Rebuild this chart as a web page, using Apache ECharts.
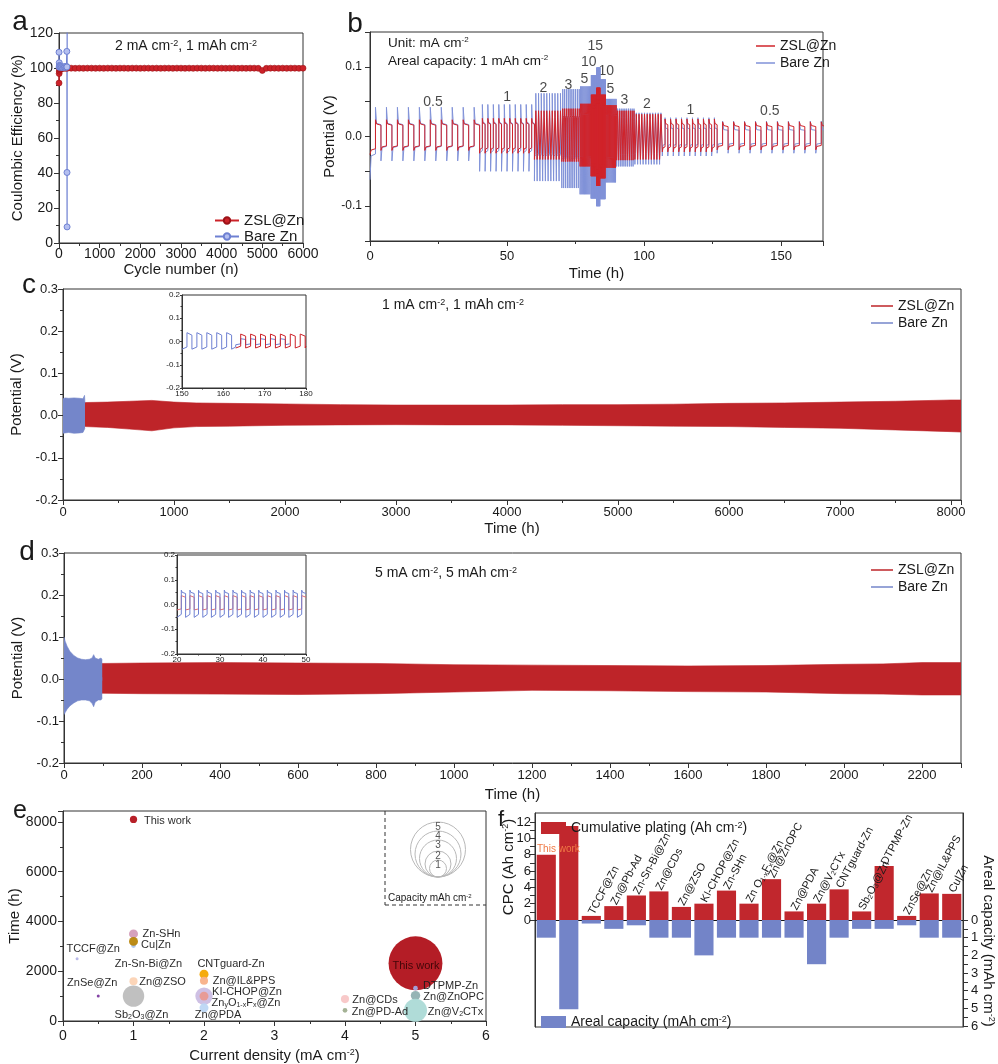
<!DOCTYPE html>
<html><head><meta charset="utf-8"><title>Zn anode cycling</title>
<script src="https://cdn.jsdelivr.net/npm/echarts@6.0.0/dist/echarts.min.js"></script>
<style>html,body{margin:0;padding:0;background:#fff;}#chart{width:998px;height:1064px;}</style>
</head><body><div id="chart"></div>
<script>
// ================= DATA =================
// ---- panel a : Coulombic efficiency ----
const aZslCycle = [1,4,8,15,25,40,60,80,100,150,
  200,300,400,500,600,700,800,900,1000,1100,
  1200,1300,1400,1500,1600,1700,1800,1900,2000,2100,
  2200,2300,2400,2500,2600,2700,2800,2900,3000,3100,
  3200,3300,3400,3500,3600,3700,3800,3900,4000,4100,
  4200,4300,4400,4500,4600,4700,4800,4900,5000,5100,
  5200,5300,5400,5500,5600,5700,5800,5900,6000];
const aZslCE = [91.4,96.8,98.2,99.0,99.4,99.6,99.7,99.8,99.8,99.8,
  99.8,99.9,99.8,99.9,99.8,99.9,99.9,99.8,99.9,99.8,
  99.9,99.9,99.8,99.9,99.9,99.8,99.9,99.9,99.8,99.9,
  99.9,99.8,99.9,99.8,99.9,99.9,99.8,99.9,99.9,99.8,
  99.9,99.8,99.9,99.9,99.8,99.9,99.9,99.8,99.9,99.8,
  99.9,99.9,99.8,99.9,99.8,99.9,99.9,99.8,98.6,99.8,
  99.9,99.9,99.8,99.9,99.8,99.9,99.9,99.8,99.9];
const aBareCycle = [1,3,6,10,15,22,30,40,55,70,90,110,130,150,170,185,192,195,197,199,201];
const aBareCE = [109,100.5,103,101.5,100.8,101.2,100.6,100.9,100.4,100.7,100.3,100.6,100.5,100.8,100.4,100.9,109.5,100.6,40.3,9.2,160];

// ---- panel b : rate performance (1 mAh cm-2) ----
const bRate = [0.5,1,2,3,5,10,15,10,5,3,2,1,0.5];          // mA cm-2
const bCycles = [10,10,10,10,10,10,10,10,10,10,10,10,10];
const bZslUp = [0.024,0.026,0.037,0.040,0.047,0.060,0.070,0.060,0.045,0.037,0.032,0.025,0.021];
const bZslDown = [-0.020,-0.024,-0.033,-0.036,-0.043,-0.057,-0.071,-0.060,-0.045,-0.034,-0.033,-0.022,-0.019];
const bBareUp = [0.042,0.046,0.062,0.068,0.072,0.088,0.099,0.082,0.054,0.040,0.034,0.027,0.022];
const bBareDown = [-0.035,-0.050,-0.064,-0.074,-0.083,-0.089,-0.100,-0.090,-0.066,-0.043,-0.040,-0.028,-0.024];
const bZslFirst = -0.026, bBareFirst = -0.062;
const bLblText = ['0.5','1','2','3','5','10','15','10','5','3','2','1','0.5'];
const bLblT = [23,50,63.3,72.4,78.2,79.8,82.2,86.2,87.7,92.8,101,116.9,145.9];
const bLblV = [0.05,0.056,0.069,0.074,0.083,0.107,0.129,0.094,0.068,0.052,0.046,0.038,0.036];

// ---- panel c : 1 mA cm-2, 1 mAh cm-2 (envelopes) ----
const cZslT = [0,200,400,600,800,1000,1200,1500,2000,2500,3000,3500,4000,4500,5000,5500,6000,6500,7000,7500,8000,8090];
const cZslUp = [0.031,0.031,0.032,0.034,0.036,0.032,0.030,0.029,0.0275,0.026,0.025,0.025,0.025,0.026,0.026,0.027,0.029,0.030,0.032,0.034,0.037,0.037];
const cZslDown = [-0.026,-0.026,-0.028,-0.032,-0.036,-0.029,-0.026,-0.025,-0.023,-0.022,-0.0215,-0.022,-0.022,-0.023,-0.024,-0.025,-0.026,-0.028,-0.030,-0.034,-0.038,-0.039];
const cBareT = [0,20,50,100,150,180,190,194,198];
const cBareUp = [0.040,0.042,0.041,0.042,0.041,0.040,0.039,0.048,0.030];
const cBareDown = [-0.042,-0.041,-0.040,-0.042,-0.041,-0.040,-0.039,-0.037,-0.030];
// inset c: [start, end, period, up, down]
const cInBare = [[150,163,2.4,0.038,-0.033],[163,176,2.4,0.012,-0.014]];
const cInZsl = [[163,180,2.4,0.032,-0.028]];

// ---- panel d : 5 mA cm-2, 5 mAh cm-2 (envelopes) ----
const dZslT = [0,100,200,400,600,800,1000,1200,1400,1600,1800,2000,2100,2200,2300];
const dZslUp = [0.037,0.037,0.038,0.039,0.038,0.037,0.034,0.033,0.032,0.031,0.032,0.035,0.036,0.039,0.039];
const dZslDown = [-0.034,-0.034,-0.035,-0.036,-0.037,-0.035,-0.031,-0.027,-0.028,-0.030,-0.031,-0.035,-0.036,-0.038,-0.038];
const dBareT = [0,3,8,15,25,35,45,55,65,72,76,80,88,95,98];
const dBareUp = [0.100,0.090,0.078,0.066,0.056,0.050,0.047,0.046,0.047,0.050,0.058,0.050,0.047,0.050,0.045];
const dBareDown = [-0.085,-0.080,-0.072,-0.064,-0.057,-0.052,-0.050,-0.050,-0.052,-0.058,-0.066,-0.055,-0.050,-0.050,-0.045];
const dInBare = [[20,50,2,0.058,-0.052]];
const dInZsl = [[20,50,2,0.036,-0.022]];

// ---- panel e : literature comparison ----
const eNames = ['This work','Zn-SHn','Zn-Sn-Bi@Zn','Cu|Zn','TCCF@Zn','ZnSe@Zn','Zn@ZSO','Sb2O3@Zn','CNTguard-Zn','Zn@IL&PPS','KI-CHOP@Zn','ZnyO1-xFx@Zn','Zn@PDA','Zn@CDs','Zn@PD-Ad','This work','DTPMP-Zn','Zn@ZnOPC','Zn@V2CTx'];
const eCurrent = [1,1,1,1,0.2,0.5,1,1,2,2,2,2,2,4,4,5,5,5,5];
const eTime = [8100,3500,3030,3200,2500,1000,1600,1000,1880,1620,1000,1000,530,880,430,2320,1320,1020,430];
const eCap = [0.9,1.1,0.6,1.1,0.3,0.3,1.0,2.4,1.1,1.0,2.0,1.1,1.1,1.0,0.6,5.1,0.6,1.15,2.55];
const eLegendCaps = [5,4,3,2,1];

// ---- panel f : cumulative plating capacity ----
const fNames = ['This work','This work','TCCF@Zn','Zn@Pb-Ad','Zn-Sn-Bi@Zn','Zn@CDs','Zn@ZSO','KI-CHOP@Zn','Zn-SHn','Zn O1-xFx@Zn','Zn@ZnOPC','Zn@PDA','Zn@V2CTx','CNTguard-Zn','Sb2O3@Zn','DTPMP-Zn','ZnSe@Zn','Zn@IL&PPS','Cu|Zn'];
const fCPC = [8,11.5,0.5,1.7,3.0,3.5,1.6,2.0,3.6,2.0,5.0,1.05,2.0,3.75,1.05,6.6,0.5,3.25,3.2];
const fAreal = [1,5.05,0.2,0.5,0.3,1,1,2,1,1,1,1,2.5,1,0.5,0.5,0.3,1,1];
const fLeftTicks = [0,2,4,6,8,10,12];
const fRightTicks = [0,1,2,3,4,5,6];

// ================= STYLE / LAYOUT =================
const FONT = '"Liberation Sans", Arial, Helvetica, sans-serif';
const INK = '#1a1a1a';
const R = fs => ({
  sup:{fontSize:Math.round(fs*0.62), verticalAlign:'top', fontFamily:FONT, color:INK},
  sub:{fontSize:Math.round(fs*0.62), verticalAlign:'bottom', fontFamily:FONT, color:INK}
});
const RICHNAME = {
  'Sb2O3@Zn':'Sb{sub|2}O{sub|3}@Zn',
  'ZnyO1-xFx@Zn':'Zn{sub|y}O{sub|1-x}F{sub|x}@Zn',
  'Zn O1-xFx@Zn':'Zn O{sub|1-x}F{sub|x}@Zn',
  'Zn@V2CTx':'Zn@V{sub|2}CTx'
};
const rn = n => RICHNAME[n] || n;

function merge(a, b){
  const o = Object.assign({}, a);
  for (const k in b){
    const v = b[k];
    if (v && typeof v === 'object' && !Array.isArray(v) && a && a[k] && typeof a[k] === 'object' && !Array.isArray(a[k])) o[k] = merge(a[k], v);
    else o[k] = v;
  }
  return o;
}
const plain = v => String(Math.round(v*1e6)/1e6);
function ax(extra){
  return merge({
    type:'value',
    axisLine:{show:true, onZero:false, lineStyle:{color:'#333', width:1}},
    axisTick:{show:true, length:5, lineStyle:{color:'#333'}},
    minorTick:{show:true, splitNumber:2, length:3, lineStyle:{color:'#333'}},
    splitLine:{show:false}, minorSplitLine:{show:false},
    axisLabel:{color:INK, fontSize:13, fontFamily:FONT, formatter:plain},
    nameLocation:'middle',
    nameTextStyle:{color:INK, fontSize:15, fontFamily:FONT, rich:R(15)}
  }, extra);
}
const f1 = v => (Math.abs(v) < 1e-9 ? 0 : v).toFixed(1);
const fB = v => { const r = Math.round(v*100); return r % 10 !== 0 ? '' : (r/100).toFixed(1); };
const inX = {axisLabel:{fontSize:8, margin:2}, axisTick:{length:2}, minorTick:{length:1.5}};

// waveform from segment table [start, end, period, up, down]
function wave(segs, platF, first){
  const out = []; let firstDone = false;
  segs.forEach(s => {
    const ts = s[0], te = s[1], h = s[2]/2, up = s[3], dn = s[4];
    let t = ts, neg = true;
    while (t < te - 1e-6){
      const e = Math.min(t + h, te);
      let p = neg ? dn : up;
      if (!firstDone && first != null){ p = first; firstDone = true; }
      out.push([t, p], [t + 0.2*(e - t), p*platF], [e, p*platF*0.9]);
      t = e; neg = !neg;
    }
  });
  return out;
}
function bSegs(up, dn){
  const segs = []; let t = 0;
  bRate.forEach((r, i) => { const per = 2/r; const dur = bCycles[i]*per; segs.push([t, t+dur, per, up[i], dn[i]]); t += dur; });
  return segs;
}
// a dense-oscillation band: upper envelope filled down past 0, lower envelope filled up past 0
function band(name, xi, yi, T, U, D, color, z){
  const common = {type:'line', xAxisIndex:xi, yAxisIndex:yi, symbol:'none', silent:true, color:color, z:z,
    lineStyle:{width:0.6, color:color}, itemStyle:{color:color}};
  return [
    Object.assign({name:name, data:T.map((t,i)=>[t, U[i]]), areaStyle:{color:color, opacity:1, origin:-0.004}}, common),
    Object.assign({name:name+'#lo', data:T.map((t,i)=>[t, D[i]]), areaStyle:{color:color, opacity:1, origin:0.004}}, common)
  ];
}
const pairs = (X, Y) => X.map((x,i)=>[x, Y[i]]);
const stripName = n => n.replace(/^[a-f]:/, '');

// colours
const RED_A = '#cc2229', BLUE_A = '#6e80d2';
const RED_B = '#d0242b', BLUE_B = '#8092d8';
const RED_BAND = '#be2429', BLUE_BAND = '#7486ca';
const eColors = ['#b3141c','#d49cb9','#a9c3ec','#b8860b','#b4b4e6','#7d3aa0','#fcd3b4','#bdbdbd','#f4a600','#f8b088','#cbbde3','#e99a92','#bcd6f4','#f8c6c6','#9fae8f','#b0111a','#a3a6e3','#8fb0b1','#acdad6'];
const eLabelOffset = [[34,1.5],[28,0.5],[15,18],[22.5,4],[16,-10],[-6,-13.6],[29,1],[8,19],[27,-10.7],[40,0],[43,-4.3],[42,7.3],[14,7.3],[30,1],[35,1.4],[0.5,2.7],[35,-2.3],[38,1.4],[40,2]];
const eKeyRadius = [27.5,23,18.5,13,8.5];
const capSize = c => Math.max(3, 7.5*c + 0.6*c*c);

// ================= OPTION =================
const gridStyle = {show:true, borderColor:'#333', borderWidth:1, backgroundColor:'transparent'};
const option = {
  animation:false,
  textStyle:{fontFamily:FONT},
  grid:[
    Object.assign({left:59, top:33, width:244, height:210}, gridStyle),
    Object.assign({left:370, top:32, width:453, height:209}, gridStyle),
    Object.assign({left:63, top:289, width:898, height:211}, gridStyle),
    Object.assign({left:182, top:295, width:124, height:93}, gridStyle),
    Object.assign({left:64, top:553, width:897, height:210}, gridStyle),
    Object.assign({left:177, top:555, width:129, height:99}, gridStyle),
    Object.assign({left:63, top:811, width:423, height:211}, gridStyle),
    Object.assign({left:535, top:813, width:428, height:214}, gridStyle)
  ],
  xAxis:[
    ax({gridIndex:0, min:0, max:6000, interval:1000, name:'Cycle number (n)', nameGap:17, axisLabel:{fontSize:14, margin:4}}),
    ax({gridIndex:1, min:0, max:165.3, interval:50, name:'Time (h)', nameGap:25, axisLabel:{margin:9, showMaxLabel:false}}),
    ax({gridIndex:2, min:0, max:8090, interval:1000, name:'Time (h)', nameGap:21, axisLabel:{margin:6, showMaxLabel:false}}),
    ax(merge(inX, {gridIndex:3, min:150, max:180, interval:10})),
    ax({gridIndex:4, min:0, max:2300, interval:200, name:'Time (h)', nameGap:24, axisLabel:{margin:6, showMaxLabel:false}}),
    ax(merge(inX, {gridIndex:5, min:20, max:50, interval:10})),
    ax({gridIndex:6, min:0, max:6, interval:1, name:'Current density (mA cm{sup|-2})', nameGap:27, axisLabel:{fontSize:14, margin:8}}),
    ax({gridIndex:7, type:'category', data:fNames, boundaryGap:true, axisLabel:{show:false}, axisTick:{show:false}, minorTick:{show:false},
        axisLine:{onZero:true, onZeroAxisIndex:7, lineStyle:{color:'#111', width:1.2}}})
  ],
  yAxis:[
    ax({gridIndex:0, min:0, max:120, interval:20, name:'Coulombic Efficiency (%)', nameGap:34, axisLabel:{fontSize:14, margin:6}}),
    ax({gridIndex:1, min:-0.15, max:0.15, interval:0.05, minorTick:{show:false}, name:'Potential (V)', nameGap:22, axisLabel:{formatter:fB, fontSize:12, margin:8}}),
    ax({gridIndex:2, min:-0.2, max:0.3, interval:0.1, name:'Potential (V)', nameGap:27, axisLabel:{formatter:f1, margin:5}}),
    ax(merge(inX, {gridIndex:3, min:-0.2, max:0.2, interval:0.1, axisLabel:{formatter:f1}})),
    ax({gridIndex:4, min:-0.2, max:0.3, interval:0.1, name:'Potential (V)', nameGap:27, axisLabel:{formatter:f1, margin:5}}),
    ax(merge(inX, {gridIndex:5, min:-0.2, max:0.2, interval:0.1, axisLabel:{formatter:f1}})),
    ax({gridIndex:6, min:0, max:8440, interval:2000, name:'Time (h)', nameGap:40, axisLabel:{fontSize:14, margin:6, showMaxLabel:false}}),
    ax({gridIndex:7, min:-13.1, max:13.1, minorTick:{show:false},
        axisLabel:{customValues:fLeftTicks, margin:4}, axisTick:{customValues:[0,1,2,3,4,5,6,7,8,9,10,11,12]}}),
    ax({gridIndex:7, position:'right', inverse:true, min:-6.05, max:6.05, minorTick:{show:false},
        axisLabel:{customValues:fRightTicks, margin:8}, axisTick:{customValues:[0,0.5,1,1.5,2,2.5,3,3.5,4,4.5,5,5.5,6]}})
  ],
  legend:[
    {left:209, top:208, orient:'vertical', itemWidth:24, itemHeight:8, itemGap:1, selectedMode:false,
     data:['a:ZSL@Zn','a:Bare Zn'], formatter:stripName, textStyle:{fontSize:15, color:INK}},
    {left:751, top:34, orient:'vertical', itemWidth:19, itemHeight:1.5, icon:'rect', itemGap:3, selectedMode:false,
     data:['b:ZSL@Zn','b:Bare Zn'], formatter:stripName, textStyle:{fontSize:14, color:INK}},
    {left:866, top:294, orient:'vertical', itemWidth:22, itemHeight:1.5, icon:'rect', itemGap:3, selectedMode:false,
     data:['c:ZSL@Zn','c:Bare Zn'], formatter:stripName, textStyle:{fontSize:14, color:INK}},
    {left:866, top:558, orient:'vertical', itemWidth:22, itemHeight:1.5, icon:'rect', itemGap:3, selectedMode:false,
     data:['d:ZSL@Zn','d:Bare Zn'], formatter:stripName, textStyle:{fontSize:14, color:INK}},
    {left:536, top:816, itemWidth:25, itemHeight:12, icon:'rect', selectedMode:false,
     data:['f:cpc'], formatter:()=>'Cumulative plating (Ah cm{sup|-2})', textStyle:{fontSize:14, color:INK, rich:R(14)}},
    {left:536, top:1010, itemWidth:25, itemHeight:12, icon:'rect', selectedMode:false,
     data:['f:areal'], formatter:()=>'Areal capacity (mAh cm{sup|-2})', textStyle:{fontSize:14, color:INK, rich:R(14)}}
  ],
  series:[].concat(
    // a
    [{name:'a:ZSL@Zn', type:'line', xAxisIndex:0, yAxisIndex:0, data:pairs(aZslCycle, aZslCE),
      symbol:'circle', symbolSize:6, lineStyle:{color:RED_A, width:1.5}, itemStyle:{color:RED_A, borderColor:'#9c1218', borderWidth:0.6}},
     {name:'a:Bare Zn', type:'line', xAxisIndex:0, yAxisIndex:0, data:pairs(aBareCycle, aBareCE),
      symbol:'circle', symbolSize:6, lineStyle:{color:BLUE_A, width:1.2}, itemStyle:{color:'#b4bff0', borderColor:BLUE_A, borderWidth:1}}],
    // b
    [{name:'b:Bare Zn', type:'line', xAxisIndex:1, yAxisIndex:1, data:wave(bSegs(bBareUp, bBareDown), 0.45, bBareFirst),
      symbol:'none', lineStyle:{color:BLUE_B, width:1}, itemStyle:{color:BLUE_B}, silent:true},
     {name:'b:ZSL@Zn', type:'line', xAxisIndex:1, yAxisIndex:1, data:wave(bSegs(bZslUp, bZslDown), 0.75, bZslFirst),
      symbol:'none', lineStyle:{color:RED_B, width:1}, itemStyle:{color:RED_B}, silent:true},
     {name:'b:labels', type:'scatter', xAxisIndex:1, yAxisIndex:1, data:pairs(bLblT, bLblV), symbolSize:1,
      itemStyle:{color:'transparent'}, silent:true,
      label:{show:true, position:'inside', formatter:p=>bLblText[p.dataIndex], fontSize:14, color:INK, fontFamily:FONT}}],
    // c
    band('c:ZSL@Zn', 2, 2, cZslT, cZslUp, cZslDown, RED_BAND, 2),
    band('c:Bare Zn', 2, 2, cBareT, cBareUp, cBareDown, BLUE_BAND, 3),
    [{name:'cin:Bare', type:'line', xAxisIndex:3, yAxisIndex:3, data:wave(cInBare, 0.8), symbol:'none', lineStyle:{color:BLUE_A, width:1}, silent:true},
     {name:'cin:ZSL', type:'line', xAxisIndex:3, yAxisIndex:3, data:wave(cInZsl, 0.8), symbol:'none', lineStyle:{color:RED_A, width:1}, silent:true}],
    // d
    band('d:ZSL@Zn', 4, 4, dZslT, dZslUp, dZslDown, RED_BAND, 2),
    band('d:Bare Zn', 4, 4, dBareT, dBareUp, dBareDown, BLUE_BAND, 3),
    [{name:'din:ZSL', type:'line', xAxisIndex:5, yAxisIndex:5, data:wave(dInZsl, 0.9), symbol:'none', lineStyle:{color:'#e06a70', width:1}, silent:true},
     {name:'din:Bare', type:'line', xAxisIndex:5, yAxisIndex:5, data:wave(dInBare, 0.85), symbol:'none', lineStyle:{color:BLUE_A, width:1}, silent:true}],
    // e
    [{name:'e:bubbles', type:'scatter', xAxisIndex:6, yAxisIndex:6, silent:true,
      symbolSize:v=>capSize(v[2]),
      data:eNames.map((n,i)=>({
        name:n, value:[eCurrent[i], eTime[i], eCap[i]],
        itemStyle:{color:eColors[i], opacity:0.95},
        label:{show:true, position:'inside', offset:eLabelOffset[i], formatter:rn(n),
               fontSize:11, color:(i===15?'#3c0507':INK), fontFamily:FONT, rich:R(11)}
      }))}],
    // f
    [{name:'f:cpc', type:'bar', xAxisIndex:7, yAxisIndex:7, data:fCPC, barWidth:'85%', barGap:'-100%',
      itemStyle:{color:'#c1272d'}, silent:true,
      label:{show:true, position:'top', distance:2, rotate:62, align:'left', verticalAlign:'middle',
             formatter:p=>p.dataIndex<2?'':rn(fNames[p.dataIndex]), fontSize:11, color:INK, fontFamily:FONT, rich:R(11)}},
     {name:'f:areal', type:'bar', xAxisIndex:7, yAxisIndex:8, data:fAreal, barWidth:'85%', barGap:'-100%',
      itemStyle:{color:'#7384c8'}, silent:true}]
  ),
  graphic:[]
};

// ---- decorations: panel letters, annotations, bubble-size key ----
const G = option.graphic;
function txt(x, y, text, fs, extra){
  G.push({type:'text', x:x, y:y, z:100, silent:true,
    style:Object.assign({text:text, fontSize:fs, fontFamily:FONT, fill:INK, align:'left', verticalAlign:'middle', rich:R(fs)}, extra||{})});
}
[['a',20,22,28],['b',355,24,28],['c',29,285,28],['d',27,552,28],['e',20,811,25],['f',501,820,22]].forEach(l=>txt(l[1], l[2], l[0], l[3], {align:'center'}));
txt(186, 46, '2 mA cm{sup|-2}, 1 mAh cm{sup|-2}', 14, {align:'center'});
txt(388, 43, 'Unit: mA cm{sup|-2}', 13.5);
txt(388, 61, 'Areal capacity: 1 mAh cm{sup|-2}', 13.5);
txt(382, 305, '1 mA cm{sup|-2}, 1 mAh cm{sup|-2}', 14);
txt(375, 573, '5 mA cm{sup|-2}, 5 mAh cm{sup|-2}', 14);
txt(537, 849, 'This work', 10, {fill:'#f07a45'});
// f axis names
G.push({type:'text', x:509, y:867, rotation:Math.PI/2, z:100, silent:true,
  style:{text:'CPC (Ah cm{sup|-2})', fontSize:15, fontFamily:FONT, fill:INK, align:'center', verticalAlign:'middle', rich:R(15)}});
G.push({type:'text', x:988, y:941, rotation:-Math.PI/2, z:100, silent:true,
  style:{text:'Areal capacity (mAh cm{sup|-2})', fontSize:15, fontFamily:FONT, fill:INK, align:'center', verticalAlign:'middle', rich:R(15)}});
// e capacity key
G.push({type:'line', z:50, silent:true, shape:{x1:385, y1:811, x2:385, y2:905}, style:{stroke:'#333', lineWidth:1, lineDash:[4,3]}});
G.push({type:'line', z:50, silent:true, shape:{x1:385, y1:905, x2:486, y2:905}, style:{stroke:'#333', lineWidth:1, lineDash:[4,3]}});
txt(388, 898, 'Capacity mAh cm{sup|-2}', 10);
const keyBottom = 877, keyX = 438;
eLegendCaps.forEach((c, i) => {
  const r = eKeyRadius[i];
  G.push({type:'circle', z:50, silent:true, shape:{cx:keyX, cy:keyBottom - r, r:r}, style:{stroke:'#b8b8b8', fill:'none', lineWidth:1}});
  txt(keyX, keyBottom - 2*r + 5, String(c), 10, {align:'center', fill:'#555'});
});

const chart = echarts.init(document.getElementById('chart'), null, {renderer:'canvas'});
chart.setOption(option);
</script>
</body></html>
